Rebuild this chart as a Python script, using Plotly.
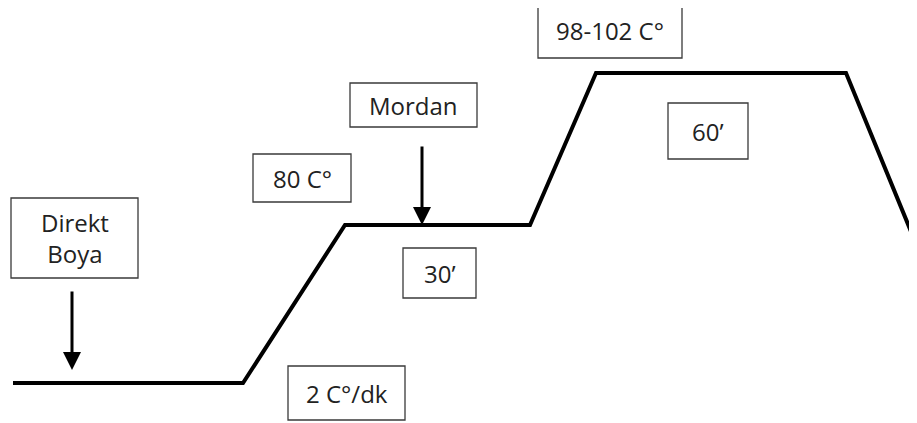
"""Direct dyeing process profile (schematic) drawn with Plotly."""

import plotly.graph_objects as go

# ===== Data (diagram units: x = time, y = height on the canvas, top = 0) =====
profile_time = [13, 243, 345, 530, 596, 846, 935]
profile_level = [383, 383, 225, 225, 73, 73, 290]

box_labels = ["Direkt<br>Boya", "Mordan", "80 C°", "30’", "98-102 C°", "60’", "2 C°/dk"]
box_x0 = [11, 350, 253, 403, 538, 668, 288]
box_x1 = [138, 477, 351, 476, 682, 748, 405]
box_y0 = [198, 83, 154, 248, 3, 103, 366]
box_y1 = [278, 127, 202, 298, 58, 159, 420]

arrow_x = [72, 422]
arrow_from = [290, 145]
arrow_to = [370, 225]

TEXT_FONT = dict(family="Open Sans", size=24, color="#222222")

# the page body adds an 8 px margin, so the view is shifted to compensate
PAGE_OFFSET = 8

fig = go.Figure()

fig.add_trace(go.Scatter(
    x=profile_time,
    y=profile_level,
    mode="lines",
    line=dict(color="#000000", width=4),
    hoverinfo="skip",
    showlegend=False,
))

for label, x0, x1, y0, y1 in zip(box_labels, box_x0, box_x1, box_y0, box_y1):
    fig.add_shape(
        type="rect", x0=x0, x1=x1, y0=y0, y1=y1,
        line=dict(color="#3a3a3a", width=1.3),
        fillcolor="white",
    )
    fig.add_annotation(
        x=(x0 + x1) / 2, y=(y0 + y1) / 2,
        text=label, showarrow=False,
        font=TEXT_FONT, align="center",
    )

for ax_x, y_from, y_to in zip(arrow_x, arrow_from, arrow_to):
    fig.add_annotation(
        x=ax_x, y=y_to, ax=ax_x, ay=y_from,
        xref="x", yref="y", axref="x", ayref="y",
        text="", showarrow=True,
        arrowhead=2, arrowsize=1.2, arrowwidth=3, arrowcolor="#000000",
    )

fig.update_xaxes(range=[PAGE_OFFSET, 917 + PAGE_OFFSET], visible=False)
fig.update_yaxes(range=[423 + PAGE_OFFSET, PAGE_OFFSET], visible=False)

fig.update_layout(
    width=917,
    height=423,
    margin=dict(l=0, r=0, t=0, b=0),
    paper_bgcolor="white",
    plot_bgcolor="white",
    showlegend=False,
)

fig.write_html("out.html")
